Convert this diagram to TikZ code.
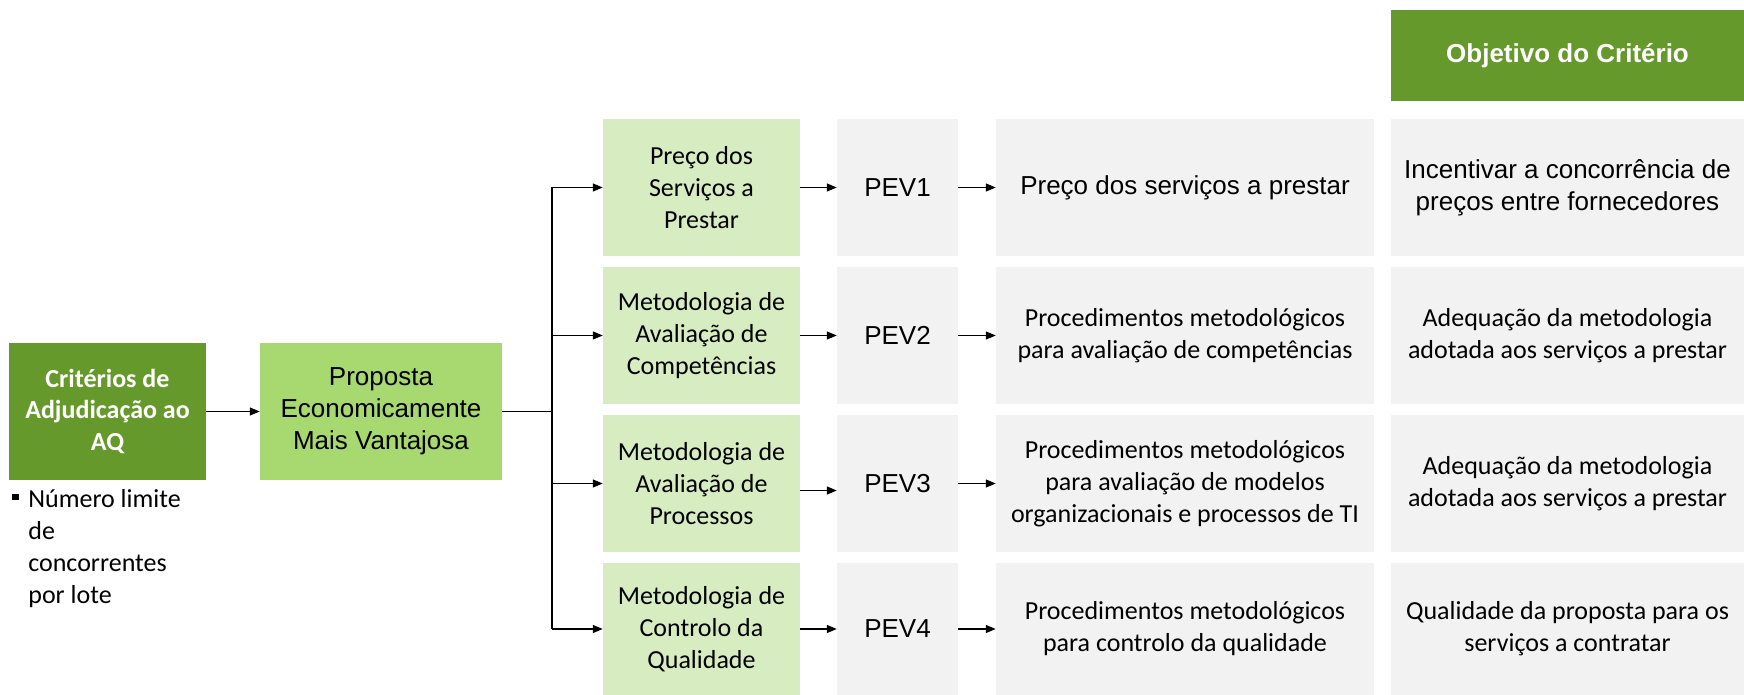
\documentclass[tikz,border=0pt]{standalone}
\usepackage{fontspec}
\setmainfont{Carlito}
\newfontfamily\arial{Liberation Sans}
\usetikzlibrary{positioning,arrows.meta}
\definecolor{darkgreen}{RGB}{102,153,43}
\definecolor{midgreen}{RGB}{168,216,112}
\definecolor{palegreen}{RGB}{216,236,193}
\definecolor{lightgrey}{RGB}{242,242,242}
\newlength{\unitpx}
\setlength{\unitpx}{0.02cm}
\newcommand{\txtsize}{\fontsize{14.8}{18.2}\selectfont}
\tikzstyle{edge} = [-{Triangle[length=5.5pt,width=4.5pt]}, line width=0.6pt]
\tikzstyle{line} = [line width=0.6pt]
\tikzstyle{darkbox} = [fill=darkgreen, text=white]
\tikzstyle{midbox} = [fill=midgreen]
\tikzstyle{palebox} = [fill=palegreen, minimum width=197\unitpx]
\tikzstyle{greybox} = [fill=lightgrey]
\tikzstyle{arialtxt} = [font=\arial\txtsize]

\begin{document}
\begin{tikzpicture}[x=0.02cm, y=-0.02cm]
\tikzstyle{every node}=[align=center, inner sep=0pt, font=\txtsize]
	\useasboundingbox (0,0) rectangle (1744,695);
	% left side
	\node[darkbox, font=\bfseries\txtsize, minimum width=197\unitpx, minimum height=137\unitpx] (crit) at (107.5,411.5) {Critérios de\\Adjudicação ao\\AQ};
	\node[midbox, arialtxt, minimum width=242\unitpx, minimum height=137\unitpx] (prop) at (381,411.5) {Proposta\\Economicamente\\Mais Vantajosa};
	\node[anchor=north west, align=left] (note) at (28,489) {\llap{\rule[4pt]{3.6pt}{3.6pt}\hspace{5.5pt}}Número limite\\de\\concorrentes\\por lote};
	\coordinate (split) at (552,411.5);

	% header
	\node[darkbox, font=\arial\bfseries\txtsize, minimum width=353\unitpx, minimum height=91\unitpx] (head) at (1567.5,55.5) {Objetivo do Critério};

	% criteria
	\node[palebox, minimum height=137\unitpx] (g1) at (701.5,187.5) {Preço dos\\Serviços a\\Prestar};
	\node[palebox, minimum height=137\unitpx] (g2) at (701.5,335.5) {Metodologia de\\Avaliação de\\Competências};
	\node[palebox, minimum height=137\unitpx] (g3) at (701.5,483.5) {Metodologia de\\Avaliação de\\Processos};
	\node[palebox, minimum height=132\unitpx] (g4) at (701.5,629) {Metodologia de\\Controlo da\\Qualidade};

	\node[greybox, arialtxt, minimum width=121\unitpx, minimum height=137\unitpx] (pev1) at (897.5,187.5) {PEV1};
	\node[greybox, arialtxt, minimum width=121\unitpx, minimum height=137\unitpx] (pev2) at (897.5,335.5) {PEV2};
	\node[greybox, arialtxt, minimum width=121\unitpx, minimum height=137\unitpx] (pev3) at (897.5,483.5) {PEV3};
	\node[greybox, arialtxt, minimum width=121\unitpx, minimum height=132\unitpx] (pev4) at (897.5,629) {PEV4};

	\node[greybox, arialtxt, minimum width=378\unitpx, minimum height=137\unitpx] (d1) at (1185,187.5) {Preço dos serviços a prestar};
	\node[greybox, minimum width=378\unitpx, minimum height=137\unitpx] (d2) at (1185,335.5) {Procedimentos metodológicos\\para avaliação de competências};
	\node[greybox, minimum width=378\unitpx, minimum height=137\unitpx] (d3) at (1185,483.5) {Procedimentos metodológicos\\para avaliação de modelos\\organizacionais e processos de TI};
	\node[greybox, minimum width=378\unitpx, minimum height=132\unitpx] (d4) at (1185,629) {Procedimentos metodológicos\\para controlo da qualidade};

	\node[greybox, arialtxt, minimum width=353\unitpx, minimum height=137\unitpx] (o1) at (1567.5,187.5) {Incentivar a concorrência de\\preços entre fornecedores};
	\node[greybox, minimum width=353\unitpx, minimum height=137\unitpx] (o2) at (1567.5,335.5) {Adequação da metodologia\\adotada aos serviços a prestar};
	\node[greybox, minimum width=353\unitpx, minimum height=137\unitpx] (o3) at (1567.5,483.5) {Adequação da metodologia\\adotada aos serviços a prestar};
	\node[greybox, minimum width=353\unitpx, minimum height=132\unitpx] (o4) at (1567.5,629) {Qualidade da proposta para os\\serviços a contratar};

	% connectors
	\draw[edge] (crit) -- (prop);
	\draw[line] (prop) -- (split);
	\draw[line] (split |- g1) -- (split |- g4);
	\draw[edge] (split |- g1) -- (g1);
	\draw[edge] (split |- g2) -- (g2);
	\draw[edge] (split |- g3) -- (g3);
	\draw[edge] (split |- g4) -- (g4);

	\draw[edge] (g1) -- (pev1);
	\draw[edge] (g2) -- (pev2);
	\draw[edge] ([yshift=-7\unitpx]g3.east) -- ([yshift=-7\unitpx]pev3.west);
	\draw[edge] (g4) -- (pev4);

	\draw[edge] (pev1) -- (d1);
	\draw[edge] (pev2) -- (d2);
	\draw[edge] (pev3) -- (d3);
	\draw[edge] (pev4) -- (d4);
\end{tikzpicture}
\end{document}
